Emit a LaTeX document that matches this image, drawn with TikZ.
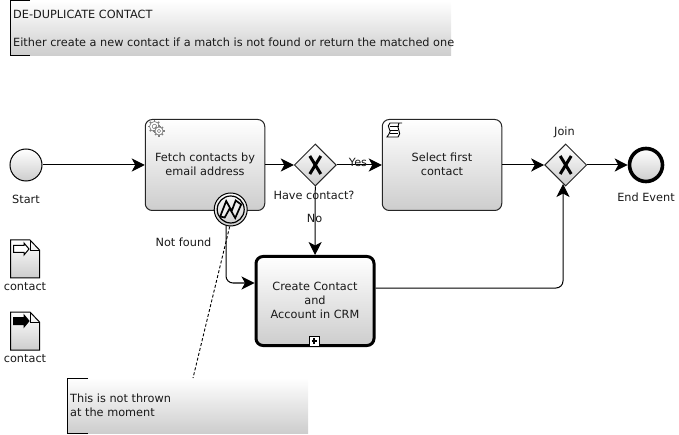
\documentclass[tikz,border=0pt]{standalone}
\usepackage{fontspec}
\setmainfont{DejaVu Sans}
\usetikzlibrary{arrows.meta,shapes.geometric,calc}
\definecolor{gradend}{HTML}{CDCDCD}
\tikzset{
  x=1pt,y=-1pt,
  grad/.style={top color=white,bottom color=gradend},
  lab/.style={font=\fontsize{11.3}{14}\selectfont,align=center,inner sep=0pt,text=black!90},
  task/.style={draw=black!85,line width=1pt,rounded corners=7pt,grad,inner sep=0pt,
     minimum width=119.5pt,minimum height=91pt},
  subtask/.style={task,draw=black,line width=3pt,minimum width=118pt,minimum height=89pt},
  tasktext/.style={lab,yshift=1pt},
  gate/.style={diamond,draw=black!85,line width=1pt,grad,aspect=1,inner sep=0pt,minimum size=42pt},
  evt/.style={circle,draw=black,line width=1pt,grad,inner sep=0pt,minimum size=32pt},
  endevt/.style={evt,line width=3.6pt,minimum size=33pt},
  xmark/.style={line width=3pt,black},
  flow/.style={draw=black,line width=1pt,rounded corners=7pt,
     -{Stealth[length=13pt,width=13pt,inset=3.5pt]}},
  docshape/.style={draw=black,line width=1pt,grad,line join=miter},
  notefill/.style={grad,draw=none},
  bracket/.style={draw=black,line width=1pt},
}
\begin{document}
\begin{tikzpicture}
\useasboundingbox (0,0) rectangle (679,435);
% notes
\fill[notefill] (10,1) rectangle (451,56);
\draw[bracket] (30,1) -- (10.5,1) -- (10.5,56) -- (30,56);
\node[lab,anchor=west] (noteA1) at (13,14.5) {DE-DUPLICATE CONTACT};
\node[lab,anchor=west] (noteA2) at (13,42.5) {Either create a new contact if a match is not found or return the matched one};
\fill[notefill] (67,378) rectangle (308,433);
\draw[bracket] (88,378.5) -- (67.5,378.5) -- (67.5,433) -- (88,433);
\coordinate (noteB) at (193,378);
\node[lab,anchor=west] (noteB1) at (70,398) {This is not thrown};
\node[lab,anchor=west] (noteB2) at (70,412) {at the moment};

% nodes
\node[evt] (start) at (26,165) {};
\node[task,label={[tasktext]center:Fetch contacts by\\email address}] (fetch) at (205,165) {};
\node[task,label={[tasktext]center:Select first\\contact}] (select) at (442,165) {};
\node[gate] (g1) at (315.3,165) {};
\node[gate] (g2) at (565.7,165) {};
\node[endevt] (end) at (646,165) {};
\node[subtask,label={[tasktext]center:Create Contact\\and\\Account in CRM}] (create) at (315,301) {};
\node[circle,draw=black,line width=1pt,grad,inner sep=0pt,minimum size=33pt] (bnd) at (230.7,209.5) {};
\node[circle,draw=black,line width=1.2pt,fill=none,inner sep=0pt,minimum size=27pt] (bndi) at (230.7,209.5) {};

% gateway X markers
\foreach \g in {g1,g2}{
  \draw[xmark] ($(\g)+(-5.5,-9)$) -- ($(\g)+(5.5,9)$);
  \draw[xmark] ($(\g)+(5.5,-9)$) -- ($(\g)+(-5.5,9)$);
}
% lightning
\draw[black,line width=1.7pt,line join=miter,fill=white!85!gray]
  ($(bnd)+(-10.5,7)$) -- ($(bnd)+(-4.5,-8.5)$) -- ($(bnd)+(1,1.5)$) -- ($(bnd)+(5,-9)$)
  -- ($(bnd)+(10.5,-5)$) -- ($(bnd)+(4.5,8.5)$) -- ($(bnd)+(-1,-1)$) -- ($(bnd)+(-6,8)$) -- cycle;

% connectors
\coordinate (bndout) at (226,226);
\coordinate (bndbend) at (226,283);
\coordinate (createin) at (create.west |- bndbend);
\coordinate (createout) at (create.east |- 0,288);
\coordinate (g2low) at (563,288);
\coordinate (g2in) at (563,184);
\draw[flow] (start) -- (fetch);
\draw[flow] (fetch) -- (g1);
\draw[flow] (g1) -- (select);
\draw[flow] (g1) -- (create);
\draw[flow] (select) -- (g2);
\draw[flow] (g2) -- (end);
\draw[flow] (bndout) -- (bndbend) -- (createin);
\draw[flow] (createout) -- (g2low) -- (g2in);
\draw[black,line width=.9pt,dashed,dash pattern=on 3pt off 2pt] (bnd.south) ++(-1,0) coordinate (asc) (asc) -- (noteB);

% labels
\node[lab] (lstart) at (26,199) {Start};
\node[lab] (lhave) at (314,195) {Have contact?};
\node[lab] (lyes) at (358,162) {Yes};
\node[lab] (lno) at (314.5,218) {No};
\node[lab] (lnf) at (183.5,242) {Not found};
\node[lab] (ljoin) at (564.5,132) {Join};
\node[lab] (lend) at (646,197) {End Event};

% subprocess marker
\draw[black,line width=1pt,fill=white] (309.5,336) rectangle (319,346);
\draw[black,line width=2pt] (311.5,341) -- (317,341) (314.25,338.2) -- (314.25,343.8);

% service gear icon
\foreach \cx/\cy/\r in {154.5/126.5/5,159/131/4}{
  \begin{scope}[shift={(\cx,\cy)}]
    \foreach \a in {0,45,...,315}\draw[gray,line width=1.5pt] (\a:\r-.5) -- (\a:\r+1.6);
    \draw[gray,line width=.7pt,fill=white] (0,0) circle (\r pt);
    \draw[gray,line width=.6pt] (0,0) circle (\r*.45 pt);
  \end{scope}
}
% script icon
\draw[black,line width=.9pt,fill=white]
 (390,123) .. controls (385,127) and (393,130) .. (389,134) -- (387,137)
 -- (398,137) .. controls (403,133) and (395,128) .. (399,123) -- (402,123) -- cycle;
\draw[black,line width=.7pt] (389.5,126.5) -- (398.5,126.5) (390,130) -- (398,130) (390,133.5) -- (398,133.5);

% data objects
\foreach \y/\n/\fc in {240/a/white,312/b/black}{
  \draw[docshape] (10.5,\y) -- (30,\y) -- (39.5,\y+10) -- (39.5,\y+38) -- (10.5,\y+38) -- cycle;
  \draw[black,line width=.8pt] (30,\y) -- (30,\y+10) -- (39.5,\y+10);
  \draw[black,line width=1pt,fill=\fc]
    (13.5,\y+5.5) -- (24,\y+5.5) -- (24,\y+3) -- (29,\y+9) -- (24,\y+15) -- (24,\y+12.5) -- (13.5,\y+12.5) -- cycle;
}
\node[lab] (cA) at (25,287) {contact};
\node[lab] (cB) at (25,359) {contact};
\end{tikzpicture}
\end{document}
